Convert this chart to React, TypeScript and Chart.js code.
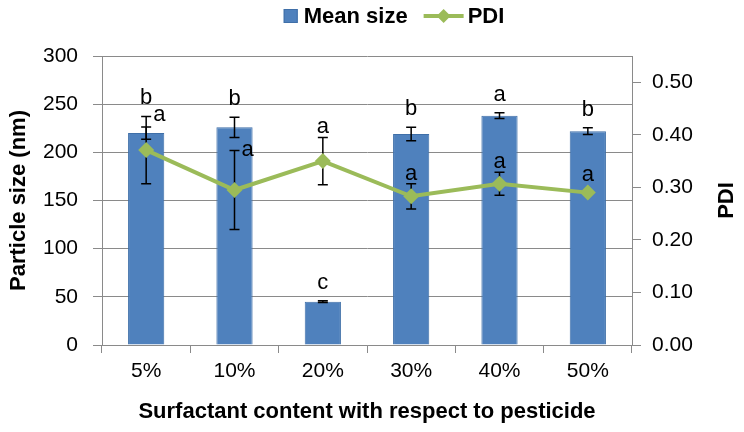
import React, { useEffect, useRef } from 'react';
import { Chart, registerables } from 'chart.js';

Chart.register(...registerables);

// ---- data ----
const categories = ['5%', '10%', '20%', '30%', '40%', '50%'];
const meanSize = [220, 226, 45, 219, 238, 222];
const meanSizeErr = [6.3, 10.5, 1, 7, 3, 3.5];
const pdi = [0.371, 0.295, 0.35, 0.283, 0.307, 0.29];
const pdiErr = [0.064, 0.075, 0.045, 0.024, 0.022, 0];
const sizeLetters = ['b', 'b', 'c', 'b', 'a', 'b'];
const pdiLetters = ['a', 'a', 'a', 'a', 'a', 'a'];
const leftTickValues = [0, 50, 100, 150, 200, 250, 300];
const rightTickValues = [0, 0.1, 0.2, 0.3, 0.4, 0.5];
const seriesLabels = ['Mean size', 'PDI'];
const xTitle = 'Surfactant content with respect to pesticide';
const yTitle = 'Particle size (nm)';
const y1Title = 'PDI';

const FONT = "'Liberation Sans', Arial, sans-serif";
const BAR_COLOR = '#4f81bd';
const BAR_BORDER = '#3f6fa8';
const LINE_COLOR = '#9bbb59';
const GRID = '#8a8a8a';

function drawErr(ctx: CanvasRenderingContext2D, x: number, top: number, bottom: number, cap: number) {
  ctx.beginPath();
  ctx.moveTo(x, top);
  ctx.lineTo(x, bottom);
  ctx.moveTo(x - cap, top);
  ctx.lineTo(x + cap, top);
  ctx.moveTo(x - cap, bottom);
  ctx.lineTo(x + cap, bottom);
  ctx.stroke();
}

const overlayPlugin = {
  id: 'overlay',
  afterDatasetDraw(chart: any, args: any) {
    if (args.index !== 0) return;
    const { ctx } = chart;
    const x = chart.scales.x;
    const y = chart.scales.y;
    const y1 = chart.scales.y1;
    ctx.save();
    ctx.strokeStyle = '#000';
    ctx.lineWidth = 1.5;
    meanSize.forEach((v, i) => {
      const cx = x.getPixelForValue(i);
      drawErr(ctx, cx, y.getPixelForValue(v + meanSizeErr[i]), y.getPixelForValue(v - meanSizeErr[i]), 5);
    });
    pdi.forEach((v, i) => {
      if (!pdiErr[i]) return;
      const cx = x.getPixelForValue(i);
      drawErr(ctx, cx, y1.getPixelForValue(v + pdiErr[i]), y1.getPixelForValue(v - pdiErr[i]), 5);
    });
    ctx.restore();
  },
  afterDatasetsDraw(chart: any) {
    const { ctx, chartArea } = chart;
    const x = chart.scales.x;
    const y = chart.scales.y;
    const y1 = chart.scales.y1;
    ctx.save();
    ctx.fillStyle = '#000';
    ctx.font = `22px ${FONT}`;
    ctx.textBaseline = 'alphabetic';
    meanSize.forEach((v, i) => {
      const cx = x.getPixelForValue(i);
      const barErrTop = y.getPixelForValue(v + meanSizeErr[i]);
      const barErrBottom = y.getPixelForValue(v - meanSizeErr[i]);
      const p = y1.getPixelForValue(pdi[i]);
      const pTop = Math.min(y1.getPixelForValue(pdi[i] + pdiErr[i]), p - 8);
      const natBase = pTop - 4;
      const overlap = natBase > barErrTop - 26 && natBase - 11 < barErrBottom + 2;
      const barLetterRef = overlap ? Math.min(barErrTop, pTop) : barErrTop;
      ctx.textAlign = 'center';
      ctx.fillText(sizeLetters[i], cx, barLetterRef - 12);
      if (overlap) {
        ctx.textAlign = 'left';
        ctx.fillText(pdiLetters[i], cx + 7, pTop + 5);
      } else {
        ctx.textAlign = 'center';
        ctx.fillText(pdiLetters[i], cx, natBase);
      }
    });
    // right axis title (reads bottom to top)
    ctx.save();
    ctx.font = `bold 22px ${FONT}`;
    ctx.textAlign = 'center';
    ctx.textBaseline = 'middle';
    ctx.translate(chart.width - 17, (chartArea.top + chartArea.bottom) / 2);
    ctx.rotate(-Math.PI / 2);
    ctx.fillText(y1Title, 0, 0);
    ctx.restore();

    // legend
    ctx.font = `bold 22px ${FONT}`;
    ctx.textBaseline = 'middle';
    ctx.textAlign = 'left';
    const w1 = ctx.measureText(seriesLabels[0]).width;
    const w2 = ctx.measureText(seriesLabels[1]).width;
    const box = 14;
    const total = box + 6 + w1 + 16 + 40 + 4 + w2;
    let lx = chart.width / 2 + 22 - total / 2;
    const ly = 16;
    ctx.fillStyle = BAR_COLOR;
    ctx.fillRect(lx, ly - box / 2, box, box);
    ctx.strokeStyle = BAR_BORDER;
    ctx.lineWidth = 1;
    ctx.strokeRect(lx + 0.5, ly - box / 2 + 0.5, box - 1, box - 1);
    lx += box + 6;
    ctx.fillStyle = '#000';
    ctx.fillText(seriesLabels[0], lx, ly + 1);
    lx += w1 + 16;
    ctx.strokeStyle = LINE_COLOR;
    ctx.lineWidth = 4;
    ctx.beginPath();
    ctx.moveTo(lx, ly);
    ctx.lineTo(lx + 40, ly);
    ctx.stroke();
    ctx.fillStyle = LINE_COLOR;
    ctx.beginPath();
    ctx.moveTo(lx + 20, ly - 7);
    ctx.lineTo(lx + 27, ly);
    ctx.lineTo(lx + 20, ly + 7);
    ctx.lineTo(lx + 13, ly);
    ctx.closePath();
    ctx.fill();
    lx += 44;
    ctx.fillStyle = '#000';
    ctx.fillText(seriesLabels[1], lx, ly + 1);
    ctx.restore();
  },
};

export default function App() {
  const ref = useRef<HTMLCanvasElement | null>(null);
  useEffect(() => {
    document.body.style.margin = '0';
    document.body.style.overflow = 'hidden';
    const canvas = ref.current;
    if (!canvas) return;
    const chart = new Chart(canvas, {
      type: 'bar',
      data: {
        labels: categories,
        datasets: [
          {
            type: 'bar',
            label: seriesLabels[0],
            data: meanSize,
            backgroundColor: BAR_COLOR,
            borderColor: BAR_BORDER,
            borderWidth: 1,
            barPercentage: 0.41,
            categoryPercentage: 1,
            yAxisID: 'y',
            order: 1,
          },
          {
            type: 'line',
            label: seriesLabels[1],
            data: pdi,
            borderColor: LINE_COLOR,
            backgroundColor: LINE_COLOR,
            borderWidth: 4,
            pointStyle: 'rectRot',
            pointRadius: 8,
            pointBackgroundColor: LINE_COLOR,
            pointBorderColor: LINE_COLOR,
            pointBorderWidth: 0,
            tension: 0,
            yAxisID: 'y1',
            order: 0,
          },
        ],
      },
      options: {
        responsive: false,
        animation: false,
        devicePixelRatio: 1,
        layout: { padding: { top: 56, left: 0, right: 0, bottom: 0 } },
        plugins: {
          legend: { display: false },
          tooltip: { enabled: false },
        },
        scales: {
          x: {
            offset: true,
            grid: {
              offset: true,
              drawOnChartArea: false,
              drawTicks: true,
              tickLength: 8,
              color: GRID,
            },
            border: { color: GRID, width: 1 },
            ticks: { color: '#000', padding: 6, font: { family: FONT, size: 21 } },
            title: {
              display: true,
              text: xTitle,
              color: '#000',
              font: { family: FONT, size: 22, weight: 'bold' },
              padding: { top: 0, bottom: 7 },
            },
            afterFit: (s: any) => {
              s.height = 87;
            },
          },
          y: {
            position: 'left',
            min: 0,
            max: 300,
            afterBuildTicks: (s: any) => {
              s.ticks = leftTickValues.map((v) => ({ value: v }));
            },
            grid: { color: GRID, drawTicks: true, tickLength: 9 },
            border: { color: GRID, width: 1 },
            ticks: { color: '#000', padding: 15, font: { family: FONT, size: 21 } },
            title: {
              display: true,
              text: yTitle,
              color: '#000',
              font: { family: FONT, size: 22, weight: 'bold' },
              padding: { top: 6, bottom: 0 },
            },
            afterFit: (s: any) => {
              s.width = 102;
            },
          },
          y1: {
            position: 'right',
            min: 0,
            max: 0.55,
            afterBuildTicks: (s: any) => {
              s.ticks = rightTickValues.map((v) => ({ value: v }));
            },
            grid: { drawOnChartArea: false, color: GRID, drawTicks: true, tickLength: 9 },
            border: { color: GRID, width: 1 },
            ticks: {
              color: '#000',
              padding: 11,
              font: { family: FONT, size: 21 },
              callback: (v: any) => Number(v).toFixed(2),
            },
            afterFit: (s: any) => {
              s.width = 112;
            },
          },
        },
      },
      plugins: [overlayPlugin],
    });
    return () => chart.destroy();
  }, []);
  return (
    <div style={{ width: 744, height: 432, background: '#fff' }}>
      <canvas ref={ref} width={744} height={432} />
    </div>
  );
}
